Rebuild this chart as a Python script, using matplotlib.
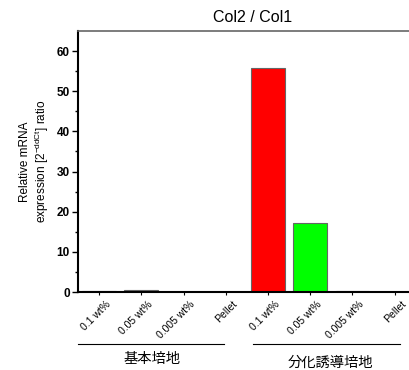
import numpy as np
import matplotlib
matplotlib.use("Agg")
import matplotlib.pyplot as plt
import matplotlib.transforms as mtransforms

plt.rcParams['font.family'] = ['Liberation Sans', 'Noto Sans CJK JP', 'DejaVu Sans']
plt.rcParams['mathtext.default'] = 'regular'

# Data
categories = ['0.1 wt%', '0.05 wt%', '0.005 wt%', 'Pellet',
              '0.1 wt%', '0.05 wt%', '0.005 wt%', 'Pellet']
values = [0.25, 0.5, 0.05, 0.0, 55.7, 17.3, 0.3, 0.0]
bar_colors = ['#606060', '#008000', '#000080', '#808080',
              '#ff0000', '#00ff00', '#000080', '#808080']
groups = ['基本培地', '分化誘導培地']

fig = plt.figure(figsize=(4.09, 3.70), dpi=100)
ax = fig.add_axes([0.1907, 0.2108, 0.826, 0.7054])

x = np.arange(len(categories))
ax.bar(x, values, width=0.8, color=bar_colors, edgecolor='#666666', linewidth=0.8)

ax.set_xlim(-0.5, 7.5)
ax.set_ylim(0, 65)
ax.set_yticks([0, 10, 20, 30, 40, 50, 60])
ax.set_yticks(np.arange(5, 65, 10), minor=True)
ax.tick_params(axis='y', which='major', direction='out', length=4, width=1,
               labelsize=8.5, pad=2)
ax.tick_params(axis='y', which='minor', direction='out', length=2, width=1)
for lab in ax.get_yticklabels():
    lab.set_fontweight('bold')

ax.set_xticks(x)
ax.set_xticklabels(categories, rotation=45, ha='right', va='top',
                   rotation_mode='anchor', fontsize=7.5)
ax.tick_params(axis='x', direction='out', length=2, width=0.8, pad=3)
shift = mtransforms.ScaledTranslation(6 / 100, 0, fig.dpi_scale_trans)
for lab in ax.get_xticklabels():
    lab.set_transform(lab.get_transform() + shift)

ax.spines['left'].set_linewidth(1.5)
ax.spines['bottom'].set_linewidth(1.5)
ax.spines['top'].set_color('#666666')
ax.spines['top'].set_linewidth(1.2)
ax.spines['right'].set_visible(False)

ax.set_ylabel('Relative mRNA\nexpression [2$^{-ddCt}$] ratio', fontsize=8.5,
              labelpad=4, linespacing=1.15)

fig.text(253 / 409, 1 - 18 / 370, 'Col2 / Col1', ha='center', va='center',
         fontsize=11.5)

# Group brackets below the tick labels
line_y = 1 - 344 / 370
fig.add_artist(plt.Line2D([78 / 409, 224 / 409], [line_y, line_y],
                          color='black', lw=0.8))
fig.add_artist(plt.Line2D([253 / 409, 400 / 409], [line_y, line_y],
                          color='black', lw=0.8))
fig.text(152 / 409, 1 - 359 / 370, groups[0], ha='center', va='center',
         fontsize=10.3, family=['Noto Sans CJK JP', 'DejaVu Sans'])
fig.text(330 / 409, 1 - 363 / 370, groups[1], ha='center', va='center',
         fontsize=10.3, family=['Noto Sans CJK JP', 'DejaVu Sans'])

fig.savefig('out.png', dpi=100)
